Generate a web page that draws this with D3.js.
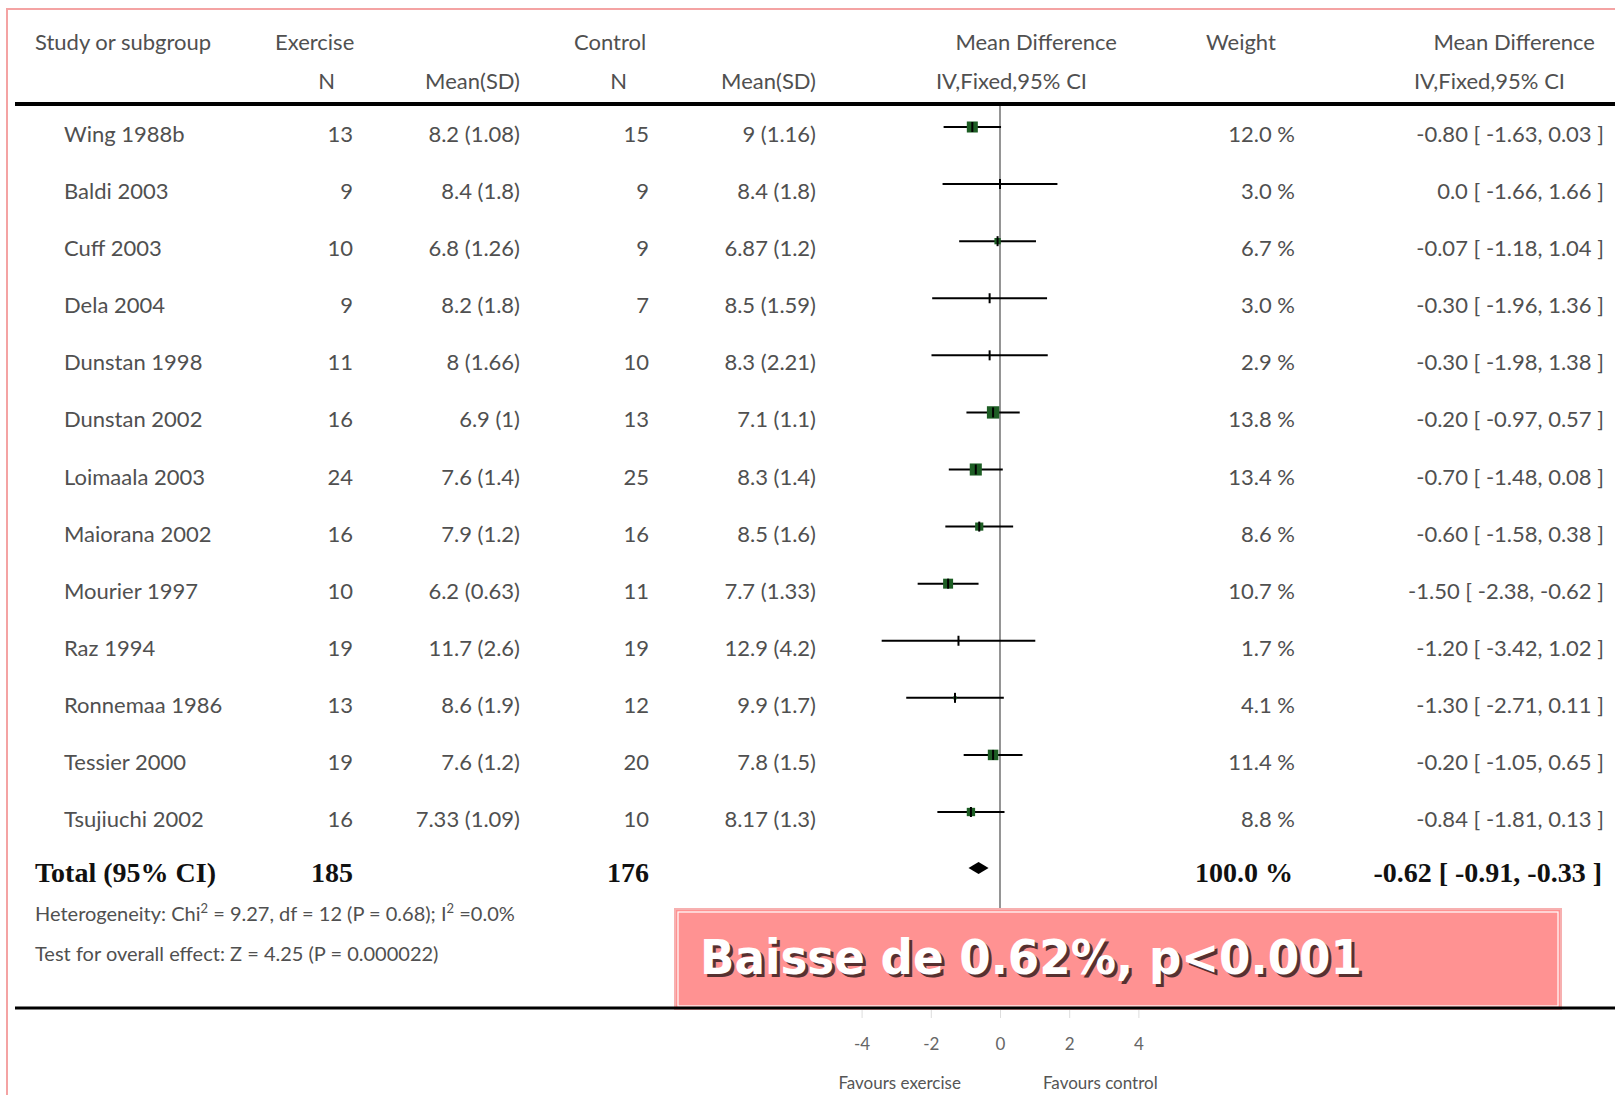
<!DOCTYPE html>
<html>
<head>
<meta charset="utf-8">
<script src="https://cdn.jsdelivr.net/npm/d3@7"></script>
<style>
  body { margin: 0; background: #fff; }
  text { font-family: Lato, "Open Sans", sans-serif; fill: #505050; }
  .tot { font-family: "Liberation Serif", serif; font-weight: bold; fill: #111; font-size: 28px; }
</style>
</head>
<body>
<svg id="chart"></svg>
<script>
// data
const studies = ["Wing 1988b", "Baldi 2003", "Cuff 2003", "Dela 2004", "Dunstan 1998", "Dunstan 2002",
  "Loimaala 2003", "Maiorana 2002", "Mourier 1997", "Raz 1994", "Ronnemaa 1986", "Tessier 2000", "Tsujiuchi 2002"];
const exN = [13, 9, 10, 9, 11, 16, 24, 16, 10, 19, 13, 19, 16];
const exMean = ["8.2 (1.08)", "8.4 (1.8)", "6.8 (1.26)", "8.2 (1.8)", "8 (1.66)", "6.9 (1)", "7.6 (1.4)",
  "7.9 (1.2)", "6.2 (0.63)", "11.7 (2.6)", "8.6 (1.9)", "7.6 (1.2)", "7.33 (1.09)"];
const ctN = [15, 9, 9, 7, 10, 13, 25, 16, 11, 19, 12, 20, 10];
const ctMean = ["9 (1.16)", "8.4 (1.8)", "6.87 (1.2)", "8.5 (1.59)", "8.3 (2.21)", "7.1 (1.1)", "8.3 (1.4)",
  "8.5 (1.6)", "7.7 (1.33)", "12.9 (4.2)", "9.9 (1.7)", "7.8 (1.5)", "8.17 (1.3)"];
const weights = [12.0, 3.0, 6.7, 3.0, 2.9, 13.8, 13.4, 8.6, 10.7, 1.7, 4.1, 11.4, 8.8];
const md = [-0.80, 0.0, -0.07, -0.30, -0.30, -0.20, -0.70, -0.60, -1.50, -1.20, -1.30, -0.20, -0.84];
const ciLow = [-1.63, -1.66, -1.18, -1.96, -1.98, -0.97, -1.48, -1.58, -2.38, -3.42, -2.71, -1.05, -1.81];
const ciHigh = [0.03, 1.66, 1.04, 1.36, 1.38, 0.57, 0.08, 0.38, -0.62, 1.02, 0.11, 0.65, 0.13];
const total = { exN: 185, ctN: 176, weight: 100.0, md: -0.62, lo: -0.91, hi: -0.33 };
const axisTicks = [-4, -2, 0, 2, 4];

const rows = studies.map((s, i) => ({
  study: s, exN: exN[i], exMean: exMean[i], ctN: ctN[i], ctMean: ctMean[i],
  w: weights[i], md: md[i], lo: ciLow[i], hi: ciHigh[i]
}));

const width = 1615, height = 1095;
const svg = d3.select('#chart').attr('width', width).attr('height', height);

// plain hyphen for negatives, like the original
const loc = d3.formatLocale({ decimal: '.', thousands: ',', grouping: [3], currency: ['', ''], minus: '-' });

// scales
const x = d3.scaleLinear().domain([-4, 4]).range([861.6, 1138.4]);
const y = d3.scalePoint().domain(studies).range([127, 812]);
const sq = d3.scaleSqrt().domain([2, 14]).range([0, 12.5]).clamp(true);

const f2 = loc.format('.2f');
const mdLabel = v => v === 0 ? '0.0' : f2(v);
const ciText = d => `${mdLabel(d.md)} [ ${f2(d.lo)}, ${f2(d.hi)} ]`;

// pink outer frame
svg.append('rect').attr('x', 7).attr('y', 9).attr('width', 1700).attr('height', 1200)
  .attr('fill', 'none').attr('stroke', '#f4a3a3').attr('stroke-width', 2);

// header
const head = svg.append('g').style('font-size', '22px');
const h1 = 50, h2 = 89;
head.append('text').attr('x', 35).attr('y', h1).text('Study or subgroup');
head.append('text').attr('x', 275).attr('y', h1).text('Exercise');
head.append('text').attr('x', 574).attr('y', h1).text('Control');
head.append('text').attr('x', 1117).attr('y', h1).attr('text-anchor', 'end').text('Mean Difference');
head.append('text').attr('x', 1206).attr('y', h1).text('Weight');
head.append('text').attr('x', 1595).attr('y', h1).attr('text-anchor', 'end').text('Mean Difference');
head.append('text').attr('x', 335).attr('y', h2).attr('text-anchor', 'end').text('N');
head.append('text').attr('x', 520).attr('y', h2).attr('text-anchor', 'end').text('Mean(SD)');
head.append('text').attr('x', 627).attr('y', h2).attr('text-anchor', 'end').text('N');
head.append('text').attr('x', 816).attr('y', h2).attr('text-anchor', 'end').text('Mean(SD)');
head.append('text').attr('x', 1087).attr('y', h2).attr('text-anchor', 'end').text('IV,Fixed,95% CI');
head.append('text').attr('x', 1565).attr('y', h2).attr('text-anchor', 'end').text('IV,Fixed,95% CI');

// zero line
svg.append('line').attr('x1', x(0)).attr('x2', x(0)).attr('y1', 104).attr('y2', 1008)
  .attr('stroke', '#7a7a7a').attr('stroke-width', 1.6);

// top rule
svg.append('line').attr('x1', 15).attr('x2', width).attr('y1', 104).attr('y2', 104)
  .attr('stroke', '#000').attr('stroke-width', 4);

// study rows
const rowG = svg.append('g').selectAll('g').data(rows).enter().append('g')
  .attr('transform', d => `translate(0, ${y(d.study)})`)
  .style('font-size', '22px');

const tb = 15;
rowG.append('text').attr('x', 64).attr('y', tb).text(d => d.study);
rowG.append('text').attr('x', 353).attr('y', tb).attr('text-anchor', 'end').text(d => d.exN);
rowG.append('text').attr('x', 520).attr('y', tb).attr('text-anchor', 'end').text(d => d.exMean);
rowG.append('text').attr('x', 649).attr('y', tb).attr('text-anchor', 'end').text(d => d.ctN);
rowG.append('text').attr('x', 816).attr('y', tb).attr('text-anchor', 'end').text(d => d.ctMean);
rowG.append('text').attr('x', 1295).attr('y', tb).attr('text-anchor', 'end').text(d => d.w.toFixed(1) + ' %');
rowG.append('text').attr('x', 1604).attr('y', tb).attr('text-anchor', 'end').text(ciText);

// CI lines, squares, ticks
rowG.append('line').attr('x1', d => x(d.lo)).attr('x2', d => x(d.hi)).attr('y1', 0).attr('y2', 0)
  .attr('stroke', '#000').attr('stroke-width', 2);
rowG.append('rect')
  .attr('x', d => x(d.md) - sq(d.w) / 2).attr('y', d => -sq(d.w) / 2)
  .attr('width', d => sq(d.w)).attr('height', d => sq(d.w))
  .attr('fill', '#1d5e24');
rowG.append('line').attr('x1', d => x(d.md)).attr('x2', d => x(d.md)).attr('y1', -5).attr('y2', 5)
  .attr('stroke', '#000').attr('stroke-width', 2);

// total row
const ty = 882;
svg.append('text').attr('class', 'tot').attr('x', 35).attr('y', ty).text('Total (95% CI)');
svg.append('text').attr('class', 'tot').attr('x', 353).attr('y', ty).attr('text-anchor', 'end').text(total.exN);
svg.append('text').attr('class', 'tot').attr('x', 649).attr('y', ty).attr('text-anchor', 'end').text(total.ctN);
svg.append('text').attr('class', 'tot').attr('x', 1293).attr('y', ty).attr('text-anchor', 'end').text(total.weight.toFixed(1) + ' %');
svg.append('text').attr('class', 'tot').attr('x', 1602).attr('y', ty).attr('text-anchor', 'end').text(ciText(total));

const dy = 868;
svg.append('path')
  .attr('d', `M${x(total.lo)},${dy} L${x(total.md)},${dy - 6} L${x(total.hi)},${dy} L${x(total.md)},${dy + 6} Z`)
  .attr('fill', '#000');

// heterogeneity text
const het = svg.append('text').attr('x', 35).attr('y', 921).style('font-size', '20px');
het.append('tspan').text('Heterogeneity: Chi');
het.append('tspan').attr('baseline-shift', 'super').style('font-size', '13px').text('2');
het.append('tspan').text(' = 9.27, df = 12 (P = 0.68); I');
het.append('tspan').attr('baseline-shift', 'super').style('font-size', '13px').text('2');
het.append('tspan').text(' =0.0%');
svg.append('text').attr('x', 35).attr('y', 961).style('font-size', '20px')
  .text('Test for overall effect: Z = 4.25 (P = 0.000022)');

// pink annotation box
svg.append('rect').attr('x', 675).attr('y', 909).attr('width', 886).attr('height', 100)
  .attr('fill', '#ff9292').attr('stroke', '#f7b0b0').attr('stroke-width', 2);
svg.append('rect').attr('x', 678).attr('y', 912).attr('width', 880).attr('height', 94)
  .attr('fill', 'none').attr('stroke', '#fff').attr('stroke-width', 1.2);

const note = 'Baisse de 0.62%, p<0.001';
svg.append('text').attr('x', 703).attr('y', 977)
  .attr('textLength', 662).attr('lengthAdjust', 'spacingAndGlyphs')
  .style('font-family', '"DejaVu Sans", Verdana, sans-serif').style('font-weight', 'bold')
  .style('font-size', '48px').style('fill', '#3a2020').style('opacity', 0.85).text(note);
svg.append('text').attr('x', 700).attr('y', 974)
  .attr('textLength', 662).attr('lengthAdjust', 'spacingAndGlyphs')
  .style('font-family', '"DejaVu Sans", Verdana, sans-serif').style('font-weight', 'bold')
  .style('font-size', '48px').style('fill', '#fff').text(note);

// bottom rule
svg.append('line').attr('x1', 15).attr('x2', width).attr('y1', 1008).attr('y2', 1008)
  .attr('stroke', '#000').attr('stroke-width', 3);

// axis
const axis = svg.append('g').attr('transform', 'translate(0, 1010)')
  .call(d3.axisBottom(x).tickValues(axisTicks).tickSize(8).tickPadding(20).tickFormat(loc.format('d')));
axis.select('.domain').remove();
axis.selectAll('.tick line').attr('stroke', '#ddd');
axis.selectAll('.tick text').style('font-family', 'Lato, sans-serif').style('font-size', '17px').style('fill', '#666');

svg.append('text').attr('x', x(-2.9)).attr('y', 1089).attr('text-anchor', 'middle')
  .style('font-size', '17px').style('fill', '#555').text('Favours exercise');
svg.append('text').attr('x', x(2.9)).attr('y', 1089).attr('text-anchor', 'middle')
  .style('font-size', '17px').style('fill', '#555').text('Favours control');
</script>
</body>
</html>
